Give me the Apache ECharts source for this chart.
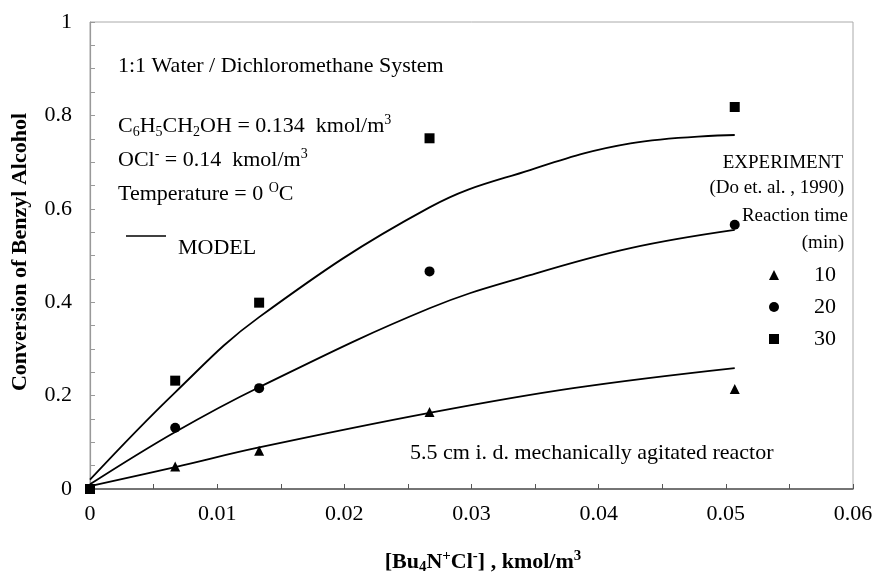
<!DOCTYPE html>
<html>
<head>
<meta charset="utf-8">
<script src="https://cdn.jsdelivr.net/npm/echarts@6/dist/echarts.min.js"></script>
<style>
  html, body { margin: 0; padding: 0; background: #fff; }
  #main { width: 876px; height: 583px; }
</style>
</head>
<body>
<div id="main"></div>
<script>
var myChart = echarts.init(document.getElementById("main"));

var FONT = "Liberation Serif";

// experiment points [x, conversion]
var exp10 = [[0, 0], [0.0067, 0.048], [0.0133, 0.082], [0.0267, 0.165], [0.0507, 0.214]];
var exp20 = [[0, 0], [0.0067, 0.131], [0.0133, 0.216], [0.0267, 0.466], [0.0507, 0.566]];
var exp30 = [[0, 0], [0.0067, 0.232], [0.0133, 0.399], [0.0267, 0.751], [0.0507, 0.818]];

// model curves
var model10 = [[0, 0.006], [0.0067, 0.047], [0.0133, 0.089], [0.0267, 0.163], [0.038, 0.216], [0.0507, 0.259]];
var model20 = [[0, 0.01], [0.0067, 0.122], [0.0133, 0.218], [0.0267, 0.387], [0.0346, 0.458], [0.0425, 0.516], [0.0507, 0.555]];
var model30 = [[0, 0.02], [0.0067, 0.207], [0.0133, 0.368], [0.0267, 0.603], [0.0346, 0.683], [0.0425, 0.74], [0.0507, 0.758]];

var legendNames = ["10", "20", "30"];

var rich = {
    t: { fontFamily: FONT, fontSize: 22, lineHeight: 26, color: "#000" },
    sub: { fontFamily: FONT, fontSize: 14, lineHeight: 12, verticalAlign: "bottom", color: "#000" },
    sup: { fontFamily: FONT, fontSize: 14, lineHeight: 14, verticalAlign: "top", color: "#000" },
    b: { fontFamily: FONT, fontSize: 22, fontWeight: "bold", lineHeight: 26, color: "#000" },
    bsub: { fontFamily: FONT, fontSize: 15, fontWeight: "bold", lineHeight: 12, verticalAlign: "bottom", color: "#000" },
    bsup: { fontFamily: FONT, fontSize: 15, fontWeight: "bold", lineHeight: 14, verticalAlign: "top", color: "#000" }
};

function txt(x, y, text, align, size) {
    return {
        type: "text", x: x, y: y,
        style: {
            text: text, fontFamily: FONT, fontSize: size || 22, fill: "#000",
            align: align || "left", verticalAlign: "middle"
        }
    };
}

function richTxt(x, y, text) {
    return {
        type: "text", x: x, y: y,
        style: { text: text, rich: rich, verticalAlign: "middle", fill: "#000" }
    };
}

function lineSeries(name, data) {
    return {
        name: name, type: "line", data: data, showSymbol: false,
        smooth: 0.4,
        lineStyle: { color: "#000", width: 1.8 }, z: 2, silent: true
    };
}

function scatterSeries(name, data, symbol, size) {
    return {
        name: name, type: "scatter", data: data, symbol: symbol, symbolSize: size,
        itemStyle: { color: "#000", opacity: 1 }, z: 5
    };
}

var option = {
    animation: false,
    grid: { left: 90, right: 23, top: 22, bottom: 94, show: true, borderColor: "#aaa", borderWidth: 1 },
    xAxis: {
        type: "value", min: 0, max: 0.06, interval: 0.01,
        axisLine: { lineStyle: { color: "#555", width: 1.5 } },
        axisTick: { inside: true, length: 5, lineStyle: { color: "#555" } },
        minorTick: { show: true, splitNumber: 2, length: 5, lineStyle: { color: "#555" } },
        splitLine: { show: false },
        axisLabel: { color: "#000", fontFamily: FONT, fontSize: 22, margin: 14 }
    },
    yAxis: {
        type: "value", min: 0, max: 1, interval: 0.2,
        axisLine: { show: true, lineStyle: { color: "#999", width: 1.2 } },
        axisTick: { show: true, inside: true, length: 5, lineStyle: { color: "#999" } },
        minorTick: { show: true, splitNumber: 4, length: 5, lineStyle: { color: "#999" } },
        splitLine: { show: false },
        axisLabel: { color: "#000", fontFamily: FONT, fontSize: 22, margin: 18 }
    },
    legend: {
        data: legendNames, orient: "vertical", left: 764, top: 259,
        itemWidth: 10, itemHeight: 10, itemGap: 10,
        itemStyle: { opacity: 1 },
        textStyle: { fontFamily: FONT, fontSize: 22, color: "#000", lineHeight: 22, padding: [0, 0, 0, 30] }
    },
    graphic: [
        txt(118, 66, "1:1 Water / Dichloromethane System"),
        richTxt(118, 126, "{t|C}{sub|6}{t|H}{sub|5}{t|CH}{sub|2}{t|OH = 0.134  kmol/m}{sup|3}"),
        richTxt(118, 160, "{t|OCl}{sup|-}{t| = 0.14  kmol/m}{sup|3}"),
        richTxt(118, 194, "{t|Temperature = 0 }{sup|O}{t|C}"),
        { type: "line", shape: { x1: 126, y1: 236, x2: 166, y2: 236 }, style: { stroke: "#000", lineWidth: 1.5 } },
        txt(178, 248, "MODEL"),
        { type: "text", x: 843, y: 163, style: { text: "EXPERIMENT", fontFamily: FONT, fontSize: 19, fill: "#000", align: "right", verticalAlign: "middle" } },
        { type: "text", x: 844, y: 188, style: { text: "(Do et. al. , 1990)", fontFamily: FONT, fontSize: 19, fill: "#000", align: "right", verticalAlign: "middle" } },
        { type: "text", x: 848, y: 216, style: { text: "Reaction time", fontFamily: FONT, fontSize: 19, fill: "#000", align: "right", verticalAlign: "middle" } },
        { type: "text", x: 844, y: 243, style: { text: "(min)", fontFamily: FONT, fontSize: 19, fill: "#000", align: "right", verticalAlign: "middle" } },
        txt(410, 453, "5.5 cm i. d. mechanically agitated reactor"),
        {
            type: "text", x: 20, y: 252, rotation: Math.PI / 2,
            style: { text: "Conversion of Benzyl Alcohol", fontFamily: FONT, fontSize: 22, fontWeight: "bold", fill: "#000", align: "center", verticalAlign: "middle" }
        },
        {
            type: "text", x: 483, y: 562,
            style: { text: "{b|[Bu}{bsub|4}{b|N}{bsup|+}{b|Cl}{bsup|-}{b|] , kmol/m}{bsup|3}", rich: rich, align: "center", verticalAlign: "middle" }
        }
    ],
    series: [
        lineSeries("m10", model10),
        lineSeries("m20", model20),
        lineSeries("m30", model30),
        scatterSeries("10", exp10, "triangle", 10),
        scatterSeries("20", exp20, "circle", 10),
        scatterSeries("30", exp30, "rect", 10)
    ]
};

myChart.setOption(option);
</script>
</body>
</html>
